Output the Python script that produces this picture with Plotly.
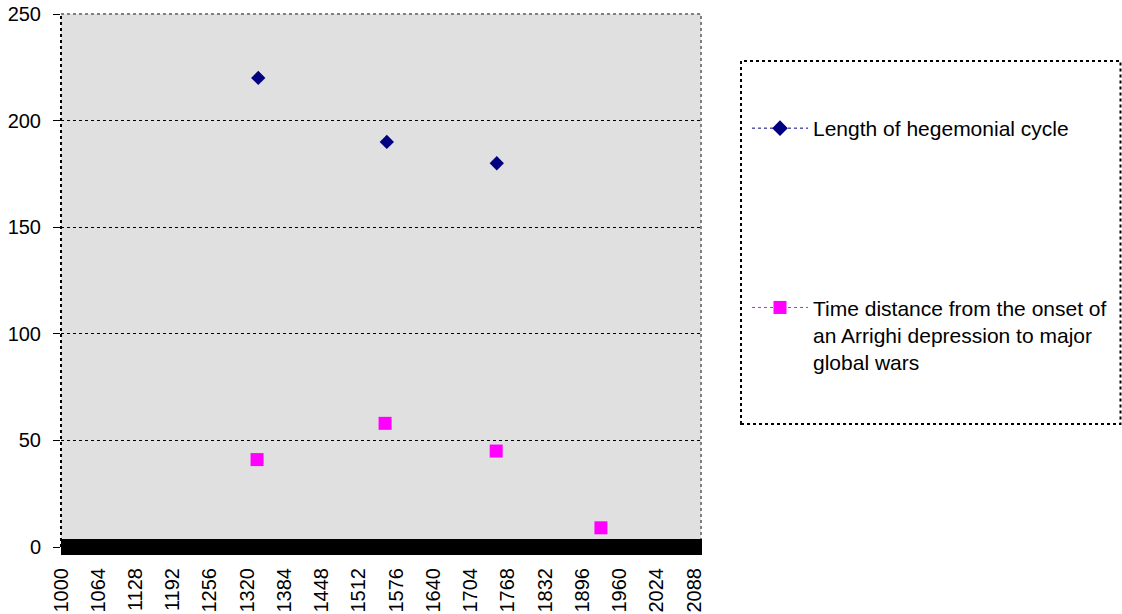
import plotly.graph_objects as go

# Data
hegemonial_years = [1339, 1560, 1749]
hegemonial_length = [220, 190, 180]
war_years = [1337, 1557, 1748, 1928]
war_distance = [41, 58, 45, 9]
x_ticks = list(range(1000, 2089, 64))
y_ticks = [0, 50, 100, 150, 200, 250]

name1 = "Length of hegemonial cycle"
name2 = "Time distance from the onset of<br>an Arrighi depression to major<br>global wars"

NAVY = "#000080"
MAGENTA = "#FF00FF"
FONT = "Liberation Sans, Arial, sans-serif"

fig = go.Figure()

fig.add_trace(go.Scatter(x=hegemonial_years, y=hegemonial_length, mode="markers",
                         marker=dict(symbol="diamond", size=11, color=NAVY,
                                     line=dict(width=0)),
                         showlegend=False, cliponaxis=False))
fig.add_trace(go.Scatter(x=war_years, y=war_distance, mode="markers",
                         marker=dict(symbol="square", size=13, color=MAGENTA,
                                     line=dict(width=0)),
                         showlegend=False, cliponaxis=False))

# legend entries
fig.add_trace(go.Scatter(x=[None], y=[None], mode="lines+markers", name=name1,
                         legendgroup="a",
                         line=dict(color=NAVY, width=1, dash="dot"),
                         marker=dict(symbol="diamond", size=12, color=NAVY)))
fig.add_trace(go.Scatter(x=[None], y=[None], mode="lines+markers", name=name2,
                         legendgroup="b",
                         line=dict(color=MAGENTA, width=1, dash="dot"),
                         marker=dict(symbol="square", size=13, color=MAGENTA)))

W, H = 1122, 614
L, R, T, B = 61, 421, 14, 67
pw, ph = W - L - R, H - T - B

def px_x(px):
    return (px - L) / pw

def px_y(py):
    return (H - B - py) / ph

shapes = [
    dict(type="line", xref="paper", yref="paper", x0=0, x1=1, y0=1, y1=1,
         line=dict(color="#808080", width=2, dash="dot")),
    dict(type="line", xref="paper", yref="paper", x0=1, x1=1, y0=0, y1=1,
         line=dict(color="#808080", width=2, dash="dot")),
    dict(type="line", xref="paper", yref="paper", x0=0, x1=0, y0=0, y1=1,
         line=dict(color="black", width=2, dash="dot")),
    dict(type="rect", xref="paper", yref="paper", x0=0, x1=px_x(702),
         y0=px_y(555), y1=px_y(539), fillcolor="black", line=dict(width=0),
         layer="above"),
    dict(type="rect", xref="paper", yref="paper", x0=px_x(741), x1=px_x(1120.5),
         y0=px_y(424), y1=px_y(61), line=dict(color="black", width=2, dash="dot"),
         fillcolor="rgba(0,0,0,0)"),
]

fig.update_layout(
    width=W, height=H,
    margin=dict(l=L, r=R, t=T, b=B, autoexpand=False),
    paper_bgcolor="white",
    plot_bgcolor="#E0E0E0",
    font=dict(family=FONT, size=20, color="black"),
    shapes=shapes,
    legend=dict(x=px_x(747), y=px_y(108), xanchor="left", yanchor="top",
                font=dict(family=FONT, size=21, color="black"),
                tracegroupgap=149, valign="top", bgcolor="rgba(0,0,0,0)",
                itemwidth=56),
    xaxis=dict(range=[1000, 2100], tickmode="array", tickvals=x_ticks,
               ticktext=[str(v) for v in x_ticks], tickangle=-90,
               showgrid=False, zeroline=False, showline=False,
               ticks="outside", ticklen=12, tickcolor="rgba(0,0,0,0)",
               automargin=False, tickfont=dict(size=20)),
    yaxis=dict(range=[0, 250], tickmode="array", tickvals=y_ticks,
               showgrid=True, gridcolor="black", griddash="dot", gridwidth=1,
               zeroline=False, showline=False, ticks="outside", ticklen=7,
               tickcolor="black", tickwidth=1, ticklabelstandoff=8,
               automargin=False, tickfont=dict(size=20)),
)

fig.write_html("out.html", config={"displayModeBar": False},
               post_script="document.body.style.margin='0';document.body.style.padding='0';document.body.style.overflow='hidden';")
